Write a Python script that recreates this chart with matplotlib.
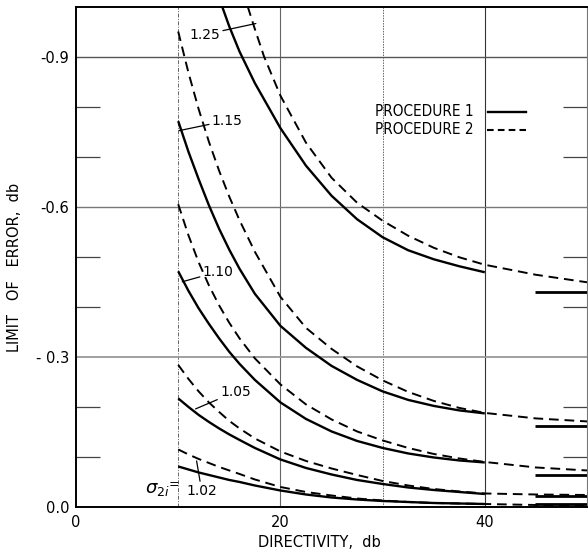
import matplotlib
matplotlib.use("Agg")
import matplotlib.pyplot as plt

# ---------------- data ----------------
x_main = [10, 11, 12, 13, 14, 15, 16, 17.5, 20, 22.5, 25, 27.5, 30, 32.5, 35, 37.5, 40]

# Procedure 1 (solid)
p1_102 = [0.081, 0.075, 0.069, 0.064, 0.059, 0.054, 0.050, 0.043, 0.033, 0.025, 0.019, 0.015, 0.012, 0.010, 0.008, 0.007, 0.006]
p1_105 = [0.217, 0.200, 0.184, 0.170, 0.157, 0.145, 0.134, 0.118, 0.095, 0.078, 0.065, 0.054, 0.046, 0.039, 0.034, 0.030, 0.026]
p1_110 = [0.471, 0.432, 0.397, 0.366, 0.337, 0.310, 0.286, 0.254, 0.209, 0.176, 0.151, 0.132, 0.118, 0.107, 0.099, 0.093, 0.089]
p1_115 = [0.771, 0.710, 0.655, 0.603, 0.556, 0.514, 0.476, 0.426, 0.362, 0.318, 0.282, 0.254, 0.231, 0.214, 0.202, 0.193, 0.187]
x_p1_125 = [14.3, 15, 16, 17.5, 20, 22.5, 25, 27.5, 30, 32.5, 35, 37.5, 40]
p1_125 = [1.0, 0.960, 0.910, 0.847, 0.757, 0.682, 0.622, 0.575, 0.539, 0.513, 0.495, 0.481, 0.469]

# Procedure 2 (dashed)
x_p2 = [10, 11, 12, 13, 14, 15, 16, 17.5, 20, 22.5, 25, 27.5, 30, 32.5, 35, 37.5, 40, 45, 50]
p2_102 = [0.115, 0.105, 0.096, 0.088, 0.080, 0.073, 0.066, 0.055, 0.040, 0.030, 0.023, 0.017, 0.013, 0.010, 0.008, 0.007, 0.006, 0.004, 0.003]
p2_105 = [0.284, 0.256, 0.231, 0.209, 0.190, 0.172, 0.157, 0.137, 0.111, 0.092, 0.077, 0.064, 0.052, 0.043, 0.036, 0.031, 0.027, 0.025, 0.024]
p2_110 = [0.605, 0.543, 0.489, 0.443, 0.403, 0.368, 0.337, 0.297, 0.245, 0.205, 0.175, 0.151, 0.133, 0.118, 0.106, 0.097, 0.090, 0.079, 0.073]
p2_115 = [0.950, 0.868, 0.795, 0.730, 0.672, 0.620, 0.573, 0.510, 0.420, 0.358, 0.316, 0.281, 0.253, 0.230, 0.212, 0.198, 0.188, 0.177, 0.171]
x_p2_125 = [16.8, 17.5, 18.4, 20, 22.5, 25, 27.5, 30, 32.5, 35, 37.5, 40, 45, 50]
p2_125 = [1.0, 0.955, 0.900, 0.822, 0.728, 0.658, 0.608, 0.572, 0.542, 0.518, 0.499, 0.484, 0.464, 0.449]

# Procedure 1 limiting values (short solid bars at right)
x_limit = [44.9, 50]
p1_limit = [0.429, 0.162, 0.064, 0.021, 0.005]

sigma_labels = ["1.02", "1.05", "1.10", "1.15", "1.25"]
x_ticks = [0, 20, 40]
y_ticks = [0.0, 0.3, 0.6, 0.9]
y_tick_labels = ["0.0", "- 0.3", "-0.6", "-0.9"]

# ---------------- figure ----------------
fig = plt.figure(figsize=(5.88, 5.52), dpi=100)
ax = fig.add_axes([76/588, 1-507/552, 511/588, (507-6.5)/552])
ax.set_xlim(0, 50)
ax.set_ylim(0, 1.0)

# grid
grid_c = "#666666"
ax.axvline(10, color=grid_c, lw=0.7, ls=(0, (4, 1.5, 1, 1.5)), zorder=1)
ax.axvline(20, color=grid_c, lw=0.8, ls="-", zorder=1)
ax.axvline(30, color=grid_c, lw=0.7, ls=(0, (1.5, 1.2)), zorder=1)
ax.axvline(40, color="#333333", lw=0.8, ls="-", zorder=1)
ax.axhline(0.3, color="#999999", lw=1.3, zorder=1)
ax.axhline(0.6, color="#777777", lw=1.0, zorder=1)
ax.axhline(0.9, color="#555555", lw=1.0, zorder=1)

lw = 1.7
dash = (0, (5, 3))
for xs, ys in [(x_main, p1_102), (x_main, p1_105), (x_main, p1_110),
               (x_main, p1_115), (x_p1_125, p1_125)]:
    ax.plot(xs, ys, color="black", lw=lw, solid_capstyle="butt",
            solid_joinstyle="round", zorder=3)
for xs, ys in [(x_p2, p2_102), (x_p2, p2_105), (x_p2, p2_110),
               (x_p2, p2_115), (x_p2_125, p2_125)]:
    ax.plot(xs, ys, color="black", lw=1.4, ls=dash, zorder=3)
for v in p1_limit:
    ax.plot(x_limit, [v, v], color="black", lw=2.0, solid_capstyle="butt", zorder=3)

# axes styling
for s in ["left", "bottom", "top"]:
    ax.spines[s].set_linewidth(1.4)
    ax.spines[s].set_color("black")
ax.spines["right"].set_linewidth(0.8)
ax.spines["right"].set_color("#777777")

ax.set_xticks(x_ticks)
ax.set_xticklabels([str(t) for t in x_ticks])
ax.set_yticks(y_ticks)
ax.set_yticklabels(y_tick_labels)
ax.set_yticks([0.1, 0.2, 0.4, 0.5, 0.7, 0.8], minor=True)
ax.tick_params(axis="x", which="major", length=0, pad=6, labelsize=10.5)
ax.tick_params(axis="y", which="major", length=0, pad=5, labelsize=10.5)
ax.tick_params(axis="y", which="minor", direction="in", length=17, width=0.9,
               left=True, right=True, color="#444444")

ax.set_xlabel("DIRECTIVITY,  db", fontsize=10.5)
ax.xaxis.set_label_coords(0.477, -0.055)
ax.set_ylabel("LIMIT   OF   ERROR,  db", fontsize=10.5)
ax.yaxis.set_label_coords(-0.105, 0.478)

# legend (hand drawn style)
ax.text(0.585, 0.79, "PROCEDURE 1", transform=ax.transAxes, fontsize=11,
        ha="left", va="center", fontstretch="condensed")
ax.text(0.585, 0.754, "PROCEDURE 2", transform=ax.transAxes, fontsize=11,
        ha="left", va="center", fontstretch="condensed")
ax.plot([0.807, 0.88], [0.79, 0.79], transform=ax.transAxes, color="black", lw=1.7)
ax.plot([0.804, 0.88], [0.754, 0.754], transform=ax.transAxes, color="black", lw=1.5,
        ls=(0, (3.2, 2)))

# curve labels with leader lines
lab_kw = dict(fontsize=10, ha="center", va="center")
arr = dict(arrowstyle="-", color="black", lw=0.9, shrinkA=0, shrinkB=0)
ax.annotate(sigma_labels[4], xy=(17.6, 0.966), xytext=(12.6, 0.944), arrowprops=arr, **lab_kw)
ax.annotate(sigma_labels[3], xy=(10.1, 0.752), xytext=(14.8, 0.772), arrowprops=arr, **lab_kw)
ax.annotate(sigma_labels[2], xy=(10.4, 0.45), xytext=(13.9, 0.47), arrowprops=arr, **lab_kw)
ax.annotate(sigma_labels[1], xy=(11.7, 0.196), xytext=(15.6, 0.23), arrowprops=arr, **lab_kw)
ax.annotate(sigma_labels[0], xy=(11.8, 0.092), xytext=(12.3, 0.032), arrowprops=arr, **lab_kw)
ax.text(8.0, 0.036, r"$\sigma_{2i}$", fontsize=13, ha="center", va="center")
ax.text(9.6, 0.044, "=", fontsize=9, ha="center", va="center")

fig.savefig("out.png", dpi=100)
